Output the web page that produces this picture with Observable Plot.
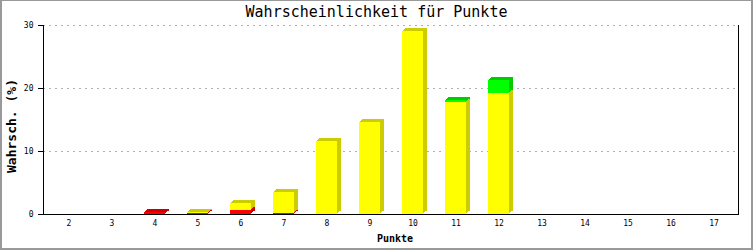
<!DOCTYPE html>
<html><head><meta charset="utf-8">
<script src="https://cdn.jsdelivr.net/npm/d3@7"></script>
<script src="https://cdn.jsdelivr.net/npm/@observablehq/plot@0.6"></script>
<style>
body{margin:0;background:#fff;}
#wrap{position:relative;width:753px;height:250px;overflow:hidden;font-family:"DejaVu Sans Mono",monospace;color:#000;}
#chart{position:absolute;left:0;top:0;}
#border{position:absolute;left:0;top:0;width:753px;height:250px;box-sizing:border-box;border:solid #999;border-width:1px 2px 2px 2px;pointer-events:none;}
#title{position:absolute;left:0;width:753px;top:3px;text-align:center;font-size:15px;line-height:18px;}
#xlabel{position:absolute;left:43px;width:704px;top:232px;text-align:center;font-size:10px;font-weight:bold;line-height:14px;}
#ylabel{position:absolute;left:12px;top:126px;transform:translate(-50%,-50%) rotate(-90deg);font-size:13px;font-weight:bold;white-space:nowrap;line-height:14px;}
</style></head><body>
<div id="wrap">
<div id="chart"></div>
<div id="title">Wahrscheinlichkeit für Punkte</div>
<div id="xlabel">Punkte</div>
<div id="ylabel">Wahrsch. (%)</div>
<div id="border"></div>
</div>
<script>
const categories = [2, 3, 4, 5, 6, 7, 8, 9, 10, 11, 12, 13, 14, 15, 16, 17];
const redValues    = [0, 0, 0.3, 0.12, 0.6, 0.2, 0, 0, 0, 0, 0, 0, 0, 0, 0, 0];
const yellowValues = [0, 0, 0, 0.16, 1.2, 3.3, 11.6, 14.6, 29.0, 17.8, 19.2, 0, 0, 0, 0, 0];
const greenValues  = [0, 0, 0, 0, 0, 0, 0, 0, 0, 0.3, 2.1, 0, 0, 0, 0, 0];
const yTicks = [0, 10, 20, 30];
const gridTicks = [10, 20, 30];

const series = [
  {values: redValues, front: "#ff0000", side: "#cc0000"},
  {values: yellowValues, front: "#ffff00", side: "#cccc00"},
  {values: greenValues, front: "#00ff00", side: "#00cc00"}
];

const cum = categories.map(() => 0);
const depth = [[1, -1], [2, -2], [3, -3], [4, -3]];
const barMarks = [];
for (const s of series) {
  const segs = [];
  categories.forEach((c, j) => {
    const v = s.values[j];
    if (v > 0) { segs.push({x: c, y1: cum[j], y2: cum[j] + v}); cum[j] += v; }
  });
  for (const [dx, dy] of depth) {
    barMarks.push(Plot.barY(segs, {x: "x", y1: "y1", y2: "y2", fill: s.side, dx, dy, insetLeft: 11, insetRight: 11, shapeRendering: "crispEdges"}));
  }
  barMarks.push(Plot.barY(segs, {x: "x", y1: "y1", y2: "y2", fill: s.front, insetLeft: 11, insetRight: 11, shapeRendering: "crispEdges"}));
}

const chart = Plot.plot({
  width: 753,
  height: 250,
  marginLeft: 43,
  marginRight: 15,
  marginTop: 25,
  marginBottom: 36,
  style: {fontFamily: "'DejaVu Sans Mono', monospace", fontSize: "8px", background: "transparent"},
  x: {type: "band", domain: categories, padding: 0, label: null},
  y: {domain: [0, 30], label: null},
  marks: [
    Plot.gridY(gridTicks, {stroke: "#b0b0b0", strokeOpacity: 1, strokeDasharray: "2,4"}),
    ...barMarks,
    Plot.axisY({ticks: yTicks, tickSize: 5, tickPadding: 5, label: null, fontSize: 8}),
    Plot.axisX({tickSize: 0, tickPadding: 6, label: null, fontSize: 8}),
    Plot.frame({anchor: "left"}),
    Plot.frame({anchor: "right"}),
    Plot.ruleY([0])
  ]
});
document.getElementById("chart").appendChild(chart);
</script>
</body></html>
